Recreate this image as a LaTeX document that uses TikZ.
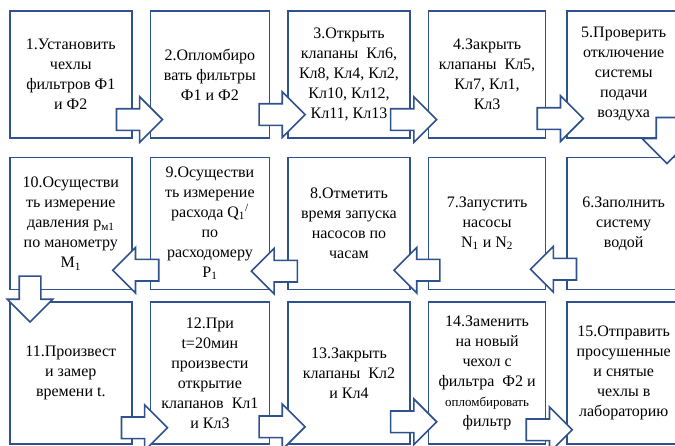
\documentclass[tikz,border=0pt]{standalone}
\usepackage{fontspec}
\setmainfont{Liberation Serif}
\newfontfamily\boxfont{Liberation Serif}
\usepackage{tikz}
\usetikzlibrary{positioning,shapes.arrows,calc}
\definecolor{boxblue}{RGB}{47,82,143}

\begin{document}
\begin{tikzpicture}[x=1pt,y=1pt,
  node distance=17pt and 17pt,
  box/.style={draw=boxblue,line width=1.6pt,fill=white,align=center,inner sep=1pt,
    font=\boxfont\fontsize{16}{20}\selectfont},
  rowa/.style={minimum height=127pt},
  rowb/.style={minimum height=132pt},
  rowc/.style={minimum height=142pt},
  cola/.style={minimum width=122pt},
  colb/.style={minimum width=119pt},
  colc/.style={minimum width=122pt},
  cold/.style={minimum width=117pt},
  cole/.style={minimum width=113pt},
  harr/.style={single arrow,draw=boxblue,line width=1.6pt,fill=white,inner sep=10pt,
    minimum height=46pt,single arrow head extend=12pt,anchor=tip},
  larr/.style={harr,shape border rotate=180},
  darr/.style={harr,shape border rotate=270}
]
\useasboundingbox (0,0) rectangle (675,-446);
\node[box,cola,rowa,anchor=north west] (b1) at (9,-10) {1.Установить\\чехлы\\фильтров Ф1\\и Ф2};
\node[box,colb,rowa,right=of b1] (b2) {2.Опломбиро\\вать фильтры\\Ф1 и Ф2};
\node[box,colc,rowa,right=of b2] (b3) {3.Открыть\\клапаны~~Кл6,\\Кл8, Кл4, Кл2,\\Кл10, Кл12,\\Кл11, Кл13};
\node[box,cold,rowa,right=of b3] (b4) {4.Закрыть\\клапаны~~Кл5,\\Кл7, Кл1,\\Кл3};
\node[box,cole,rowa,right=20pt of b4] (b5) {5.Проверить\\отключение\\системы\\подачи\\воздуха};
\node[box,cole,rowb,below=18pt of b5] (b6) {6.Заполнить\\систему\\водой};
\node[box,cold,rowb,below=18pt of b4] (b7) {7.Запустить\\насосы\\N\textsubscript{1} и N\textsubscript{2}};
\node[box,colc,rowb,below=18pt of b3] (b8) {8.Отметить\\время запуска\\насосов по\\часам};
\node[box,colb,rowb,below=18pt of b2] (b9) {9.Осуществи\\ть измерение\\расхода Q\textsubscript{1}\textsuperscript{/}\\по\\расходомеру\\P\textsubscript{1}};
\node[box,cola,rowb,below=18pt of b1] (b10) {10.Осуществи\\ть измерение\\давления p\textsubscript{м1}\\по манометру\\M\textsubscript{1}};
\node[box,cola,rowc,below=11pt of b10] (b11) {11.Произвест\\и замер\\времени t.};
\node[box,colb,rowc,below=11pt of b9] (b12) {12.При\\t=20мин\\произвести\\открытие\\клапанов~~Кл1\\и Кл3};
\node[box,colc,rowc,below=11pt of b8] (b13) {13.Закрыть\\клапаны~~Кл2\\и Кл4};
\node[box,cold,rowc,below=11pt of b7] (b14) {14.Заменить\\на новый\\чехол с\\фильтра~~Ф2 и\\{\fontsize{13}{20}\selectfont опломбировать}\\фильтр};
\node[box,cole,rowc,below=11pt of b6] (b15) {15.Отправить\\просушенные\\и снятые\\чехлы в\\лабораторию};
\node[harr] (a12) at ($(b2.south west)+(14,19)$) {};
\node[harr] (a23) at ($(b3.south west)+(19,24)$) {};
\node[harr] (a34) at ($(b4.south west)+(10,19)$) {};
\node[harr] (a45) at ($(b5.south west)+(18,20)$) {};
\node[darr,single arrow head extend=14pt] (a56) at ($(b6.north east)+(-14,-8)$) {};
\node[larr] (a67) at ($(b7.south east)+(-17,21)$) {};
\node[larr] (a78) at ($(b8.south east)+(-18,20)$) {};
\node[larr] (a89) at ($(b9.south east)+(-20,19)$) {};
\node[larr] (a910) at ($(b10.south east)+(-21,20)$) {};
\node[darr] (a1011) at ($(b11.north west)+(21,-22)$) {};
\node[harr] (a1112) at ($(b12.south west)+(19,17)$) {};
\node[harr] (a1213) at ($(b13.south west)+(19,18)$) {};
\node[harr] (a1314) at ($(b14.south west)+(10,23)$) {};
\node[harr] (a1415) at ($(b15.south west)+(7,15)$) {};
\end{tikzpicture}
\end{document}
